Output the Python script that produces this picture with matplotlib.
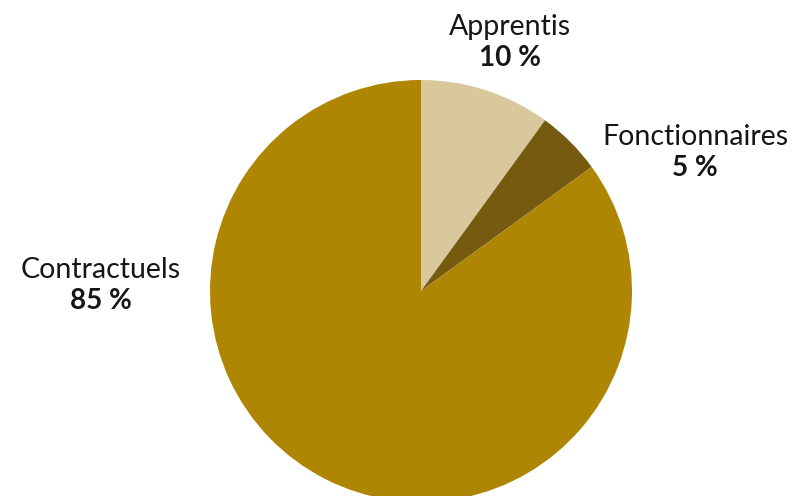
import matplotlib
matplotlib.use("Agg")
import matplotlib.pyplot as plt

# Répartition des effectifs par statut
categories = ["Apprentis", "Fonctionnaires", "Contractuels"]
values = [10, 5, 85]
colors = ["#D9C89C", "#765A10", "#AE8604"]

W, H = 793, 496
fig = plt.figure(figsize=(W / 100, H / 100), dpi=100)
ax = fig.add_axes([0, 0, 1, 1])

ax.pie(values, colors=colors, startangle=90, counterclock=False,
       center=(421, H - 291), radius=211,
       wedgeprops=dict(linewidth=0))
ax.set_xlim(0, W)
ax.set_ylim(0, H)
ax.set_aspect("equal")
ax.axis("off")

label_pos = {
    "Apprentis": (510, 27),
    "Fonctionnaires": (695, 137),
    "Contractuels": (101, 270),
}
font = ["Lato", "DejaVu Sans"]
for cat, val in zip(categories, values):
    x, y = label_pos[cat]
    ax.text(x, H - y, cat, ha="center", va="center", fontsize=20.5,
            family=font, color="#161616")
    ax.text(x, H - y - 31, f"{val} %", ha="center", va="center",
            fontsize=20, fontweight="bold", family=font, color="#161616")

fig.savefig("out.png", dpi=100)
